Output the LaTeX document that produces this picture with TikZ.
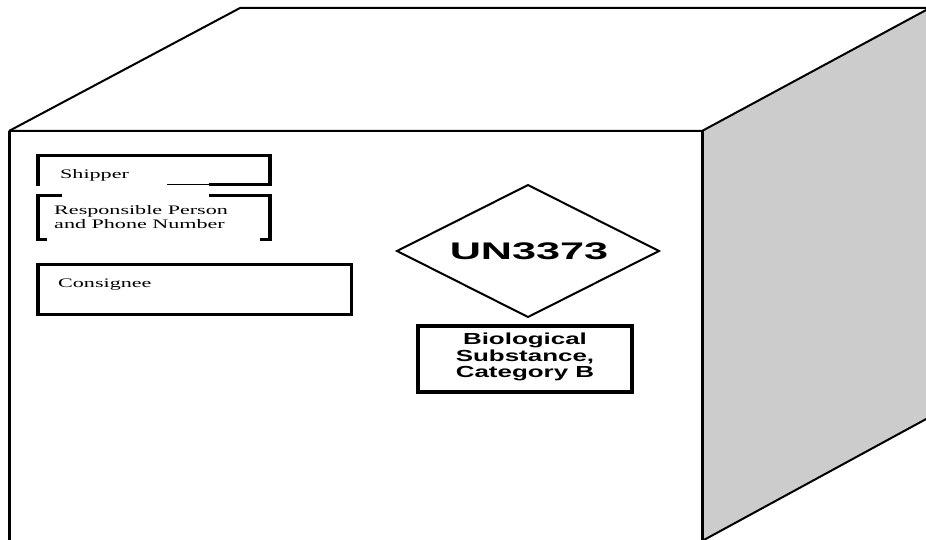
\documentclass[tikz,border=0pt]{standalone}
\usepackage{fontspec}
\setmainfont{Liberation Serif}
\newfontfamily\signfont{Liberation Sans}
\definecolor{sideface}{RGB}{204,204,204}
\newcommand{\wide}[2][1.7]{\scalebox{#1}[1]{#2}}
\tikzset{
    edge/.style={line width=2pt, line join=miter},
    heavyedge/.style={line width=3pt},
    labelbox/.style={line width=3pt, line cap=rect},
    labelside/.style={line width=4.5pt},
    labeltext/.style={anchor=west, inner sep=0pt, font=\fontsize{13}{13.5}\selectfont},
    untext/.style={inner sep=0pt, font=\signfont\bfseries\fontsize{24}{28}\selectfont},
    cattext/.style={inner sep=0pt, font=\signfont\bfseries\fontsize{16}{16.5}\selectfont}
}

\begin{document}
\begin{tikzpicture}[x=1pt, y=1pt]
    \useasboundingbox (0,0) rectangle (926,-540);

    \coordinate (front-tl) at (9,-131);
    \coordinate (front-tr) at (702,-131);
    \coordinate (front-bl) at (9,-541);
    \coordinate (front-br) at (702,-541);
    \coordinate (back-tl) at (240,-8);
    \coordinate (back-tr) at (928,-8);
    \coordinate (side-tr) at (928,-9);
    \coordinate (side-br) at (928,-418);

    % the carton
    \fill[sideface] (front-tr) -- (side-tr) -- (side-br) -- (front-br) -- cycle;
    \draw[edge] (front-tl) -- (back-tl) -- (back-tr);
    \draw[edge] (front-tl) -- (front-tr) -- (side-tr);
    \draw[edge] (front-br) -- (side-br);
    \draw[heavyedge] (front-tl) -- (front-bl);
    \draw[heavyedge] (front-tr) -- (front-br);

    % address labels
    \draw[labelbox] (38,-185) -- (38,-156) -- (270,-156) -- (270,-185) -- (210,-185);
    \draw[labelside] (38,-154.5) -- (38,-186.5) (270,-154.5) -- (270,-186.5);
    \draw[line width=1pt] (210,-185) -- (167,-185);
    \draw[labelbox] (60,-196) -- (38,-196) -- (38,-239) -- (45,-239);
    \draw[labelbox] (210,-196) -- (270,-196) -- (270,-239) -- (261,-239);
    \draw[labelside] (38,-194.5) -- (38,-240.5) (270,-194.5) -- (270,-240.5);
    \draw[labelbox] (38,-264) rectangle (351,-314);
    \draw[labelside] (38,-262.5) -- (38,-315.5);

    \node[labeltext] (shipper) at (60,-175) {\wide{Shipper}};
    \node[labeltext] (responsible) at (54,-219)
        {\wide{\begin{tabular}{@{}l@{}}Responsible Person\\and Phone Number\end{tabular}}};
    \node[labeltext] (consignee) at (58,-285) {\wide{Consignee}};

    % UN mark and category
    \draw[edge] (397,-251) -- (528,-185) -- (659,-251) -- (528,-317) -- cycle;
    \node[untext] (un-number) at (529,-251) {\wide[1.8]{UN3373}};

    \draw[labelbox, line width=3.5pt] (418,-326) rectangle (632,-392);
    \node[cattext] (category) at (525,-358)
        {\wide[1.62]{\begin{tabular}{@{}c@{}}Biological\\Substance,\\Category B\end{tabular}}};
\end{tikzpicture}
\end{document}
